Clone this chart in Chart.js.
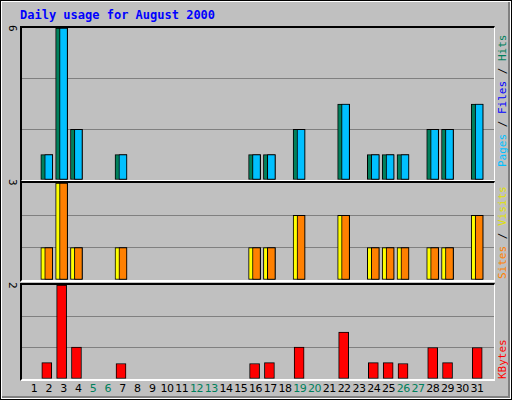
<!DOCTYPE html>
<html><head><meta charset="utf-8">
<script src="https://cdn.jsdelivr.net/npm/chart.js@4"></script>
<style>
body{margin:0;background:#fff}
#wrap{position:relative;width:510px;height:398px;border:1px solid #000;background:#fff}
#inner{position:absolute;left:1px;top:1px;width:508px;height:396px;background:#C0C0C0;border-right:2px solid #808080;border-bottom:2px solid #808080;box-sizing:border-box}
.panel{position:absolute;left:19px;width:472px;border-top:2px solid #000;border-left:2px solid #000;border-right:1px solid #fff;border-bottom:2px solid #fff;box-sizing:content-box}
.lbl{position:absolute;font:11px "DejaVu Sans Mono",monospace;white-space:nowrap}
.up{transform:rotate(-90deg);transform-origin:left top}
.down{transform:rotate(90deg);transform-origin:left top}
</style></head><body>
<div id="wrap"><div id="inner"></div>
<div class="lbl" style="left:19px;top:7px;color:#0000FF;font-weight:bold;font-size:12px">Daily usage for August 2000</div>
<div class="panel" style="top:25px;height:152px"><canvas id="c1"></canvas></div>
<div class="panel" style="top:180px;height:97px"><canvas id="c2"></canvas></div>
<div class="panel" style="top:282px;height:94px"><canvas id="c3"></canvas></div>
<div class="lbl down" style="left:18px;top:24px">6</div>
<div class="lbl down" style="left:18px;top:178px">3</div>
<div class="lbl down" style="left:18px;top:281px">2</div>
<div class="lbl up" style="left:495px;top:166px"><span style="color:#00C0FF">Pages</span> / <span style="color:#0000FF">Files</span> / <span style="color:#00805C">Hits</span></div>
<div class="lbl up" style="left:495px;top:278px"><span style="color:#FF8000">Sites</span> / <span style="color:#E0E000">Visits</span></div>
<div class="lbl up" style="left:495px;top:378px;color:#FF0000">KBytes</div>
</div>
<script>
const days = [];
for (let i = 1; i <= 31; i++) days.push(i);
const weekend = [5, 6, 12, 13, 19, 20, 26, 27];
const hits  = [0,1,6,2,0,0,1,0,0,0,0,0,0,0,0,1,1,0,2,0,0,3,0,1,1,1,0,2,2,0,3];
const files = [0,1,6,2,0,0,1,0,0,0,0,0,0,0,0,1,1,0,2,0,0,3,0,1,1,1,0,2,2,0,3];
const visits = [0,1,3,1,0,0,1,0,0,0,0,0,0,0,0,1,1,0,2,0,0,2,0,1,1,1,0,1,1,0,2];
const sites  = [0,1,3,1,0,0,1,0,0,0,0,0,0,0,0,1,1,0,2,0,0,2,0,1,1,1,0,1,1,0,2];
const kbytes = [0,0.35,2,0.68,0,0,0.33,0,0,0,0,0,0,0,0,0.33,0.35,0,0.68,0,0,1.0,0,0.35,0.35,0.33,0,0.67,0.35,0,0.67];

function pts(vals, off) {
    return vals.map((v, i) => ({ x: days[i] + off, y: v })).filter(p => p.y > 0);
}

function makeChart(id, datasets, max, step) {
    new Chart(document.getElementById(id), {
        type: 'bar',
        data: { datasets: datasets },
        options: {
            responsive: true, maintainAspectRatio: false, animation: false,
            layout: { padding: 0 },
            plugins: { legend: { display: false }, tooltip: { enabled: false } },
            scales: {
                x: {
                    type: 'linear', min: 0.2, max: 32, display: false, offset: false,
                    grid: { display: false }
                },
                y: {
                    min: 0, max: max,
                    ticks: { display: false, stepSize: step },
                    border: { display: false },
                    grid: {
                        drawTicks: false,
                        color: c => (c.tick.value > 0.01 && c.tick.value < max - 0.01) ? '#808080' : 'rgba(0,0,0,0)'
                    }
                }
            }
        }
    });
}

const bar = (data, color, w, order) => ({ data: data, backgroundColor: color, borderColor: '#000', borderWidth: 1, barThickness: w, grouped: false, borderSkipped: false, order: order });

makeChart('c1', [bar(pts(hits, -0.13), '#00805C', 12, 2), bar(pts(files, 0), '#00C0FF', 8, 1)], 6, 2);
makeChart('c2', [bar(pts(visits, -0.13), '#FFFF00', 12, 2), bar(pts(sites, 0), '#FF8000', 8, 1)], 3, 1);
makeChart('c3', [bar(pts(kbytes, -0.13), '#FF0000', 10, 1)], 2, 2 / 3);

// day labels under the bottom panel
const wrap = document.getElementById('wrap');
days.forEach(d => {
    const s = document.createElement('div');
    s.className = 'lbl';
    s.style.font = '11px "DejaVu Sans",sans-serif';
    s.style.letterSpacing = '-0.5px';
    s.style.color = weekend.includes(d) ? '#00805C' : '#000';
    s.style.width = '20px';
    s.style.textAlign = 'center';
    s.style.left = (18.2 + 14.77 * d - 10) + 'px';
    s.style.top = '381px';
    s.textContent = d;
    wrap.appendChild(s);
});
</script>
</body></html>
